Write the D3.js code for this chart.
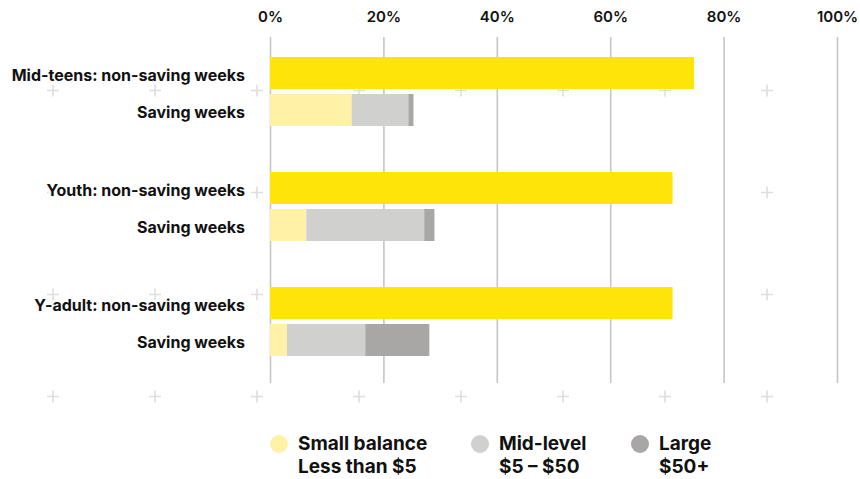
<!DOCTYPE html>
<html>
<head>
<meta charset="utf-8">
<script src="https://cdn.jsdelivr.net/npm/d3@7"></script>
<style>
  html, body { margin: 0; padding: 0; background: #fff; }
  svg { display: block; }
  text { font-family: Inter, "Noto Sans", sans-serif; fill: #111; }
</style>
</head>
<body>
<svg id="chart" width="860" height="479"></svg>
<script>
// Share of weeks by account balance, per age group
const groups = ["Mid-teens", "Youth", "Y-adult"];
const nonSavingLabels = ["Mid-teens: non-saving weeks", "Youth: non-saving weeks", "Y-adult: non-saving weeks"];
const savingLabel = "Saving weeks";
const nonSaving = [74.8, 71.0, 71.0];
const smallBalance = [14.4, 6.4, 3.0];
const midLevel = [10.0, 20.8, 13.8];
const largeBalance = [0.9, 1.8, 11.3];
const tickValues = [0, 20, 40, 60, 80, 100];
const legendItems = [
  { key: "small", line1: "Small balance", line2: "Less than $5" },
  { key: "mid", line1: "Mid-level", line2: "$5 \u2013 $50" },
  { key: "large", line1: "Large", line2: "$50+" }
];

const colors = { nonSaving: "#FFE50A", small: "#FFF1A6", mid: "#D0D0CE", large: "#A8A7A5" };

const svg = d3.select("#chart");

const x = d3.scaleLinear().domain([0, 100]).range([270, 837]);
const yGroup = d3.scaleBand().domain(groups).range([57, 402]).paddingInner(0).paddingOuter(0);
const yRow = d3.scaleBand().domain(["non", "sav"]).range([0, 69]).paddingInner(2 - 69 / 37).paddingOuter(0);

// Background cross pattern
const bg = svg.append("g").attr("class", "crosses");
const crossCols = d3.range(53, 860, 102);
const crossRows = d3.range(90.5, 479 - 60, 102);
crossRows.forEach(cy => crossCols.forEach(cx => {
  bg.append("path")
    .attr("d", `M${cx - 6},${cy}H${cx + 6}M${cx},${cy - 6}V${cy + 6}`)
    .attr("stroke", "#dedede")
    .attr("stroke-width", 1.6)
    .attr("fill", "none");
}));

// Gridlines
const grid = svg.append("g")
  .attr("transform", "translate(0,37)")
  .call(d3.axisBottom(x).tickValues(tickValues).tickSize(346).tickFormat(""));
grid.select(".domain").remove();
grid.selectAll(".tick line").attr("stroke", "#c6c6c6").attr("stroke-width", 1.6);

// Top axis labels
const axis = svg.append("g")
  .attr("transform", "translate(0,22)")
  .call(d3.axisTop(x).tickValues(tickValues).tickSize(0).tickPadding(0).tickFormat(d => d + "%"));
axis.select(".domain").remove();
axis.selectAll(".tick text")
  .attr("dy", 0)
  .style("font-family", "Inter, sans-serif")
  .style("font-size", "15px")
  .style("font-weight", 600)
  .attr("fill", "#111");

// Bars
const barH = yRow.bandwidth();
const rows = svg.append("g").attr("class", "bars");
const labels = svg.append("g").attr("class", "row-labels");

function rowLabel(y, text) {
  labels.append("text")
    .attr("x", 245).attr("y", y)
    .attr("dy", "0.5em").attr("text-anchor", "end")
    .style("font-size", "16px").style("font-weight", 700)
    .attr("stroke", "#fff").attr("stroke-width", 5)
    .attr("stroke-linejoin", "round")
    .style("paint-order", "stroke")
    .text(text);
}

groups.forEach((g, i) => {
  const y0 = yGroup(g);
  rows.append("rect")
    .attr("x", x(0)).attr("y", y0 + yRow("non"))
    .attr("width", x(nonSaving[i]) - x(0)).attr("height", barH)
    .attr("fill", colors.nonSaving);

  const segs = [
    { key: "small", v: smallBalance[i] },
    { key: "mid", v: midLevel[i] },
    { key: "large", v: largeBalance[i] }
  ];
  let acc = 0;
  segs.forEach(s => {
    rows.append("rect")
      .attr("x", x(acc)).attr("y", y0 + yRow("sav"))
      .attr("width", x(acc + s.v) - x(acc)).attr("height", barH)
      .attr("fill", colors[s.key]);
    acc += s.v;
  });

  rowLabel(y0 + yRow("non") + barH / 2, nonSavingLabels[i]);
  rowLabel(y0 + yRow("sav") + barH / 2, savingLabel);
});

// Legend
const legendX = [279, 480, 640];
const legend = svg.append("g").attr("class", "legend");
legendItems.forEach((item, i) => {
  const gx = legendX[i];
  legend.append("circle").attr("cx", gx).attr("cy", 444).attr("r", 9).attr("fill", colors[item.key]);
  const t = legend.append("text")
    .attr("x", gx + 19).attr("y", 450)
    .style("font-size", "19px").style("font-weight", 700);
  t.append("tspan").attr("x", gx + 19).text(item.line1);
  t.append("tspan").attr("x", gx + 19).attr("dy", 23).text(item.line2);
});
</script>
</body>
</html>
